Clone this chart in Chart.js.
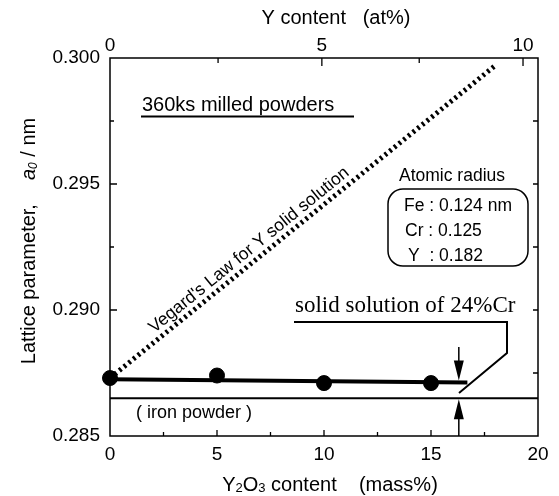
<!DOCTYPE html>
<html>
<head>
<meta charset="utf-8">
<script src="https://cdn.jsdelivr.net/npm/chart.js@4.4.1/dist/chart.umd.min.js"></script>
<style>
    html, body { margin: 0; padding: 0; background: #fff; }
    #wrap { width: 559px; height: 496px; }
</style>
</head>
<body>
<div id="wrap"><canvas id="latticeChart" width="559" height="496"></canvas></div>
<script>
// Milled powders: Y2O3 content (mass%) and lattice parameter a0 (nm)
const massContent = [0, 5, 10, 15];
const latticeParam = [0.2873, 0.2874, 0.2871, 0.2871];

// Straight line through the milled powders
const fitX = [0, 16.7];
const fitY = [0.28725, 0.28712];

// Vegard's law for Y in solid solution
const vegardX = [0, 18];
const vegardY = [0.2873, 0.2997];

// Iron powder level
const ironX = [0, 20];
const ironY = [0.2865, 0.2865];

// Axis ticks
const massTicks = [0, 5, 10, 15, 20];
const latticeTicks = [0.285, 0.290, 0.295, 0.300];

// Top axis: Y content (at%) and its position on the mass% scale
const atTicks = [0, 2.5, 5, 7.5, 10];
const atTickMass = [0, 5.05, 9.9, 14.45, 19.3];

const SANS = '"Liberation Sans", Arial, Helvetica, sans-serif';
const SERIF = '"Liberation Serif", "Times New Roman", serif';
Chart.defaults.font.family = SANS;
Chart.defaults.color = '#000';

const toPoints = (xs, ys) => xs.map((x, i) => ({ x: x, y: ys[i] }));

// draw a row of text pieces with different fonts, starting at x
function drawRuns(ctx, runs, x, y) {
    let cx = x;
    runs.forEach(r => {
        ctx.font = r.font;
        if (r.text) ctx.fillText(r.text, cx, y + (r.dy || 0));
        cx += (r.text ? ctx.measureText(r.text).width : 0) + (r.gap || 0);
    });
    return cx - x;
}
function runsWidth(ctx, runs) {
    let w = 0;
    runs.forEach(r => {
        ctx.font = r.font;
        w += (r.text ? ctx.measureText(r.text).width : 0) + (r.gap || 0);
    });
    return w;
}

function roundedBox(ctx, x, y, w, h, r) {
    ctx.beginPath();
    ctx.moveTo(x + r, y);
    ctx.arcTo(x + w, y, x + w, y + h, r);
    ctx.arcTo(x + w, y + h, x, y + h, r);
    ctx.arcTo(x, y + h, x, y, r);
    ctx.arcTo(x, y, x + w, y, r);
    ctx.closePath();
    ctx.stroke();
}

// Frame and inward tick marks on all four sides
const frameTicks = {
    id: 'frameTicks',
    beforeDatasetsDraw(chart) {
        const { ctx, chartArea: a, scales: { x, x2, y } } = chart;
        ctx.save();
        ctx.strokeStyle = '#000';
        ctx.lineWidth = 1.5;
        ctx.strokeRect(a.left, a.top, a.right - a.left, a.bottom - a.top);

        ctx.lineWidth = 1.3;
        ctx.beginPath();
        for (let v = 2.5; v < 20; v += 2.5) {
            const px = x.getPixelForValue(v);
            const len = v % 5 === 0 ? 6 : 4;
            ctx.moveTo(px, a.bottom);
            ctx.lineTo(px, a.bottom - len);
        }
        atTickMass.forEach((m, i) => {
            if (m <= 0) return;
            const px = x2.getPixelForValue(m);
            const len = atTicks[i] % 5 === 0 ? 8 : 5;
            ctx.moveTo(px, a.top);
            ctx.lineTo(px, a.top + len);
        });
        for (let k = 1; k < 6; k++) {
            const py = y.getPixelForValue(0.285 + k * 0.0025);
            const len = k % 2 === 0 ? 7 : 4;
            ctx.moveTo(a.left, py);
            ctx.lineTo(a.left + len, py);
            ctx.moveTo(a.right, py);
            ctx.lineTo(a.right - 5, py);
        }
        ctx.stroke();
        ctx.restore();
    }
};

// Titles, notes, callout and arrows
const notes = {
    id: 'notes',
    afterDatasetsDraw(chart) {
        const { ctx, chartArea: a, scales: { x, y } } = chart;
        ctx.save();
        ctx.fillStyle = '#000';
        ctx.strokeStyle = '#000';
        ctx.textBaseline = 'alphabetic';
        ctx.textAlign = 'left';

        // top axis title
        ctx.font = '20px ' + SANS;
        ctx.textAlign = 'center';
        ctx.fillText('Y content   (at%)', 336, 24);

        // bottom axis title with subscripts
        ctx.textAlign = 'left';
        const big = '20px ' + SANS, small = '13px ' + SANS;
        const xTitle = [
            { text: 'Y', font: big }, { text: '2', font: small, dy: 1 },
            { text: 'O', font: big }, { text: '3', font: small, dy: 1 },
            { text: ' content    (mass%)', font: big }
        ];
        drawRuns(ctx, xTitle, 330 - runsWidth(ctx, xTitle) / 2, 491);

        // left axis title, rotated
        const yTitle = [
            { text: 'Lattice parameter,', font: big, gap: 24 },
            { text: 'a', font: 'italic 20px ' + SANS },
            { text: '0', font: 'italic 12px ' + SANS, dy: 2 },
            { text: ' / nm', font: big }
        ];
        ctx.save();
        ctx.translate(35, 0);
        ctx.rotate(-Math.PI / 2);
        drawRuns(ctx, yTitle, -(241 + runsWidth(ctx, yTitle) / 2), 0);
        ctx.restore();

        // sample label
        ctx.font = '20px ' + SANS;
        ctx.fillText('360ks milled powders', 142, 111);
        ctx.lineWidth = 2;
        ctx.beginPath();
        ctx.moveTo(141, 116.5);
        ctx.lineTo(354, 116.5);
        ctx.stroke();

        // Vegard label along its line
        const x0 = x.getPixelForValue(vegardX[0]), y0 = y.getPixelForValue(vegardY[0]);
        const x1 = x.getPixelForValue(vegardX[1]), y1 = y.getPixelForValue(vegardY[1]);
        const ang = Math.atan2(y1 - y0, x1 - x0);
        const mx = x.getPixelForValue(6.5);
        const my = y0 + (mx - x0) * (y1 - y0) / (x1 - x0);
        ctx.save();
        ctx.translate(mx, my - 15);
        ctx.rotate(ang);
        ctx.font = '17.5px ' + SANS;
        ctx.textAlign = 'center';
        ctx.textBaseline = 'middle';
        ctx.fillText("Vegard's Law for Y solid solution", 0, 0);
        ctx.restore();

        // atomic radius box
        ctx.font = '17.5px ' + SANS;
        ctx.textAlign = 'center';
        ctx.fillText('Atomic radius', 452, 181);
        ctx.lineWidth = 1.5;
        roundedBox(ctx, 388, 189, 140, 77, 15);
        ctx.textAlign = 'left';
        ctx.fillText('Fe : 0.124 nm', 404, 211);
        ctx.fillText('Cr : 0.125', 405, 236);
        ctx.fillText('Y  : 0.182', 408, 261);

        // callout for the Cr solid solution
        ctx.font = '23px ' + SERIF;
        ctx.fillText('solid solution of 24%Cr', 295, 312);
        ctx.lineWidth = 2;
        ctx.beginPath();
        ctx.moveTo(294, 322);
        ctx.lineTo(507, 322);
        ctx.lineTo(507, 353);
        ctx.lineTo(459, 393);
        ctx.stroke();

        // arrows marking the gap between the two levels
        const ax = x.getPixelForValue(16.3);
        const topTip = y.getPixelForValue(fitY[1]) - 2;
        const botTip = y.getPixelForValue(ironY[0]) + 1;
        ctx.lineWidth = 1.5;
        ctx.beginPath();
        ctx.moveTo(ax, 347);
        ctx.lineTo(ax, topTip - 15);
        ctx.moveTo(ax, botTip + 15);
        ctx.lineTo(ax, a.bottom);
        ctx.stroke();
        ctx.beginPath();
        ctx.moveTo(ax, topTip);
        ctx.lineTo(ax - 5, topTip - 20);
        ctx.lineTo(ax + 5, topTip - 20);
        ctx.closePath();
        ctx.moveTo(ax, botTip);
        ctx.lineTo(ax - 5, botTip + 20);
        ctx.lineTo(ax + 5, botTip + 20);
        ctx.closePath();
        ctx.fill();

        // iron powder label
        ctx.font = '18px ' + SANS;
        ctx.fillText('( iron powder )', 136, 418);
        ctx.restore();
    }
};

const ctx = document.getElementById('latticeChart').getContext('2d');
new Chart(ctx, {
    type: 'scatter',
    data: {
        datasets: [
            {
                type: 'line',
                data: toPoints(vegardX, vegardY),
                borderColor: '#000',
                borderWidth: 5,
                borderDash: [2.5, 3.5],
                borderCapStyle: 'butt',
                pointRadius: 0,
                fill: false
            },
            {
                type: 'line',
                data: toPoints(fitX, fitY),
                borderColor: '#000',
                borderWidth: 4,
                pointRadius: 0,
                fill: false
            },
            {
                type: 'line',
                data: toPoints(ironX, ironY),
                borderColor: '#000',
                borderWidth: 2,
                pointRadius: 0,
                fill: false
            },
            {
                data: toPoints(massContent, latticeParam),
                backgroundColor: '#000',
                borderColor: '#000',
                borderWidth: 1,
                pointRadius: 7.5,
                clip: false
            }
        ]
    },
    options: {
        responsive: false,
        animation: false,
        layout: { padding: { left: 0, right: 21, top: 0, bottom: 0 } },
        plugins: { legend: { display: false }, tooltip: { enabled: false } },
        scales: {
            x: {
                type: 'linear',
                position: 'bottom',
                min: 0,
                max: 20,
                grid: { display: false, drawTicks: false },
                border: { display: false },
                afterBuildTicks: s => { s.ticks = massTicks.map(v => ({ value: v })); },
                ticks: { font: { size: 19 }, padding: 7, maxRotation: 0, autoSkip: false },
                afterFit: s => { s.height = 60; }
            },
            x2: {
                type: 'linear',
                position: 'top',
                min: 0,
                max: 20,
                grid: { display: false, drawTicks: false },
                border: { display: false },
                afterBuildTicks: s => {
                    s.ticks = atTickMass
                        .filter((m, i) => atTicks[i] % 5 === 0)
                        .map(m => ({ value: m }));
                },
                ticks: {
                    font: { size: 19 },
                    padding: 1,
                    maxRotation: 0,
                    autoSkip: false,
                    callback: v => String(atTicks[atTickMass.indexOf(v)])
                },
                afterFit: s => { s.height = 58; }
            },
            y: {
                type: 'linear',
                position: 'left',
                min: 0.285,
                max: 0.300,
                grid: { display: false, drawTicks: false },
                border: { display: false },
                afterBuildTicks: s => { s.ticks = latticeTicks.map(v => ({ value: v })); },
                ticks: {
                    font: { size: 19 },
                    padding: 10,
                    autoSkip: false,
                    callback: v => v.toFixed(3)
                },
                afterFit: s => { s.width = 110; }
            }
        }
    },
    plugins: [frameTicks, notes]
});
</script>
</body>
</html>
